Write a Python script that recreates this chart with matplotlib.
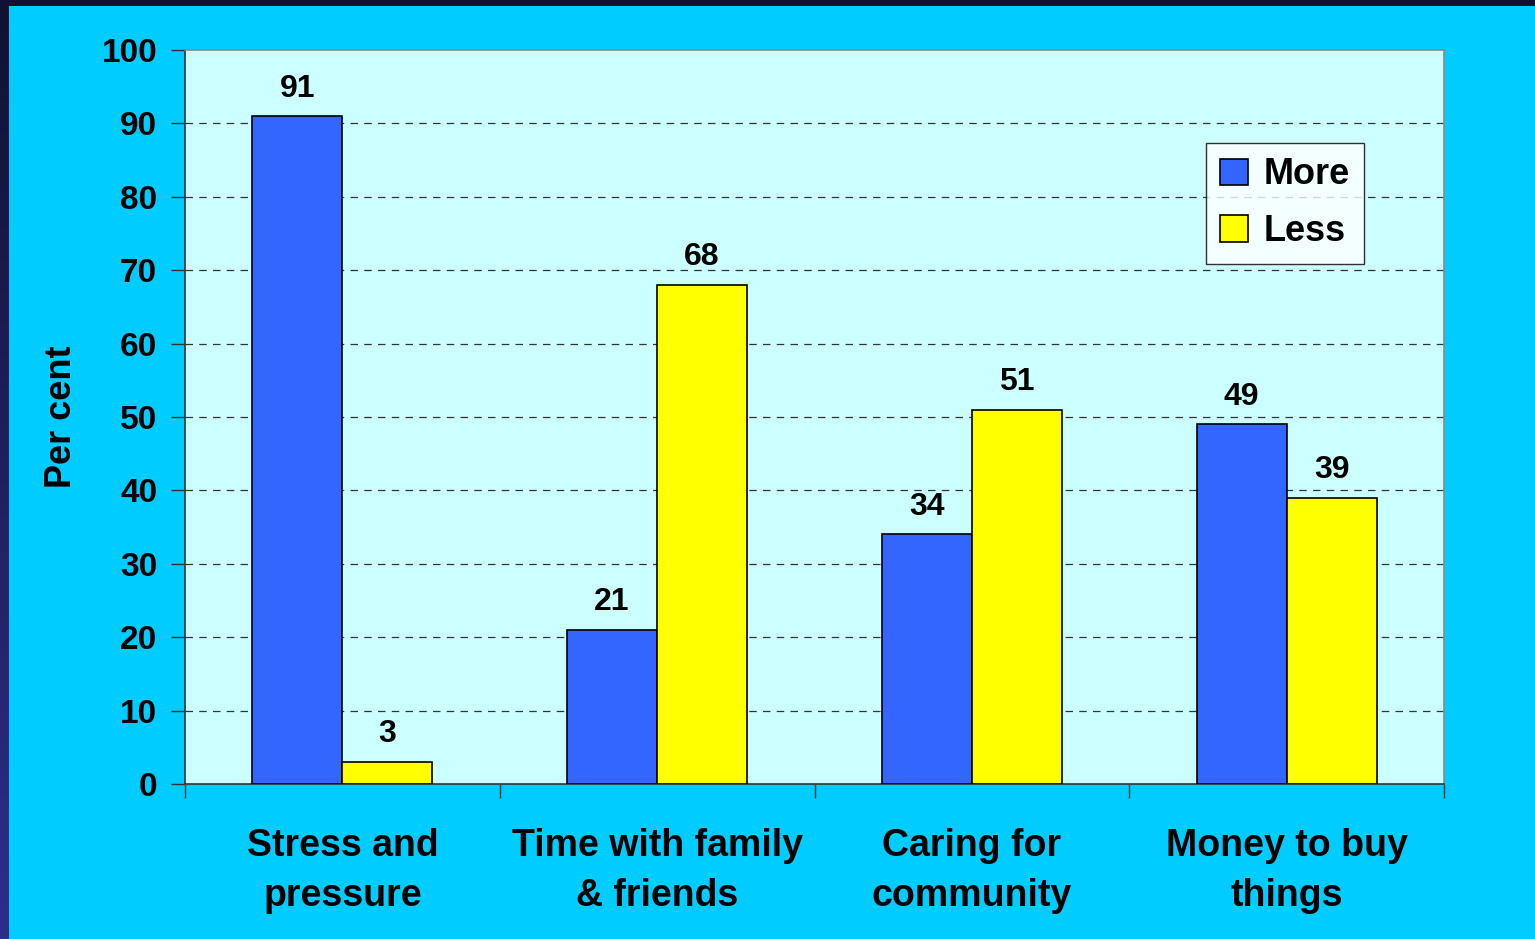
import matplotlib
matplotlib.use("Agg")
import matplotlib.pyplot as plt
import numpy as np
from matplotlib.patches import Rectangle
from matplotlib.colors import LinearSegmentedColormap

categories = ["Stress and\npressure", "Time with family\n& friends", "Caring for\ncommunity", "Money to buy\nthings"]
more = [91, 21, 34, 49]
less = [3, 68, 51, 39]
series_names = ["More", "Less"]
yticks = [0, 10, 20, 30, 40, 50, 60, 70, 80, 90, 100]

plt.rcParams['font.family'] = ['Liberation Sans', 'DejaVu Sans']
plt.rcParams['font.weight'] = 'bold'

fig = plt.figure(figsize=(15.35, 9.39), dpi=100)
fig.patch.set_facecolor('#00CCFF')

# dark slide border (top strip and left gradient strip)
fig.patches.append(Rectangle((0, 1 - 6/939), 1, 6/939, transform=fig.transFigure,
                             facecolor='#111133', edgecolor='none', zorder=-1))
gax = fig.add_axes([0, 0, 9/1535, 1])
grad = np.linspace(0, 1, 256).reshape(-1, 1)
cm = LinearSegmentedColormap.from_list('g', ['#111133', '#2e2e8a'])
gax.imshow(grad, aspect='auto', cmap=cm, origin='upper')
gax.axis('off')

ax = fig.add_axes([185/1535, (939-784)/939, (1444-185)/1535, (784-50)/939])
ax.set_facecolor('#CCFFFF')

x = np.arange(len(categories))
w = 0.286
b1 = ax.bar(x - w/2, more, w, color='#3366FF', edgecolor='black', linewidth=1.2, label=series_names[0], zorder=3)
b2 = ax.bar(x + w/2, less, w, color='#FFFF00', edgecolor='black', linewidth=1.2, label=series_names[1], zorder=3)

for bars, vals in ((b1, more), (b2, less)):
    for r, v in zip(bars, vals):
        ax.annotate(str(v), (r.get_x() + r.get_width()/2, v), xytext=(0, 9),
                    textcoords='offset points', ha='center', va='bottom',
                    fontsize=23, fontweight='bold')

ax.set_xlim(-0.5, len(categories) - 0.5)
ax.set_ylim(0, 100)
ax.set_yticks(yticks)
ax.set_yticklabels([str(t) for t in yticks], fontsize=24, fontweight='bold')
ax.set_xticks(x)
ax.set_xticklabels(categories, fontsize=27, fontweight='bold', linespacing=1.5)
ax.tick_params(axis='x', which='major', length=0, pad=32)
ax.set_xticks(np.arange(len(categories) + 1) - 0.5, minor=True)
ax.tick_params(axis='x', which='minor', length=10, width=1, color='#333333', direction='out')
ax.tick_params(axis='y', length=10, width=1, color='#333333', direction='out', pad=10)

for yv in yticks[1:-1]:
    ax.axhline(yv, color='#333333', linestyle=(0, (6, 5)), linewidth=0.9, zorder=1)

ax.spines['left'].set_color('#333333')
ax.spines['bottom'].set_color('#333333')
ax.spines['top'].set_color('#888888')
ax.spines['right'].set_color('#888888')
for s in ax.spines.values():
    s.set_linewidth(1.2)

ax.set_ylabel('Per cent', fontsize=26, fontweight='bold', labelpad=16)

leg = ax.legend(loc='upper left', bbox_to_anchor=((1206-185)/1259, (784-143)/734),
                fontsize=26, frameon=True, fancybox=False, edgecolor='black',
                handlelength=0.75, handleheight=0.75, handletextpad=0.45,
                borderpad=0.4, labelspacing=0.6, borderaxespad=0)
leg.get_frame().set_linewidth(1)
for t in leg.get_texts():
    t.set_fontweight('bold')

fig.savefig('out.png', dpi=100, facecolor=fig.get_facecolor())
